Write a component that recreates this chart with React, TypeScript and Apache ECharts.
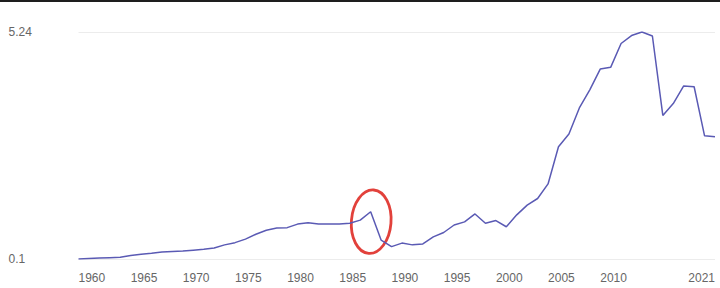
import React, { useEffect, useRef } from "react";
import * as echarts from "echarts";

const years: string[] = [];
for (let y = 1960; y <= 2021; y++) years.push(String(y));

const values: number[] = [
  0.10, 0.11, 0.12, 0.13, 0.14, 0.18, 0.21, 0.23, 0.26, 0.27,
  0.28, 0.30, 0.32, 0.35, 0.42, 0.47, 0.55, 0.66, 0.75, 0.80,
  0.81, 0.89, 0.92, 0.89, 0.89, 0.89, 0.91, 0.98, 1.17, 0.53,
  0.38, 0.46, 0.42, 0.44, 0.60, 0.70, 0.87, 0.94, 1.12, 0.91,
  0.97, 0.83, 1.10, 1.32, 1.47, 1.80, 2.64, 2.93, 3.52, 3.93,
  4.40, 4.44, 4.98, 5.16, 5.24, 5.15, 3.35, 3.62, 4.02, 4.00,
  2.89, 2.87,
];

const yMin = 0.1;
const yMax = 5.24;
const leftLabelYears = ["1960", "1965", "1970", "1975", "1980", "1985", "1990", "1995", "2000", "2005", "2010"];
const rightLabelYears = ["2021"];

export default function App() {
  const ref = useRef<HTMLDivElement>(null);
  useEffect(() => {
    if (!ref.current) return;
    const chart = echarts.init(ref.current, null, { renderer: "svg" });
    const labelStyle = {
      color: "#666",
      fontSize: 12,
      fontFamily: "'Liberation Sans', Arial, sans-serif",
    };
    chart.setOption({
      animation: false,
      backgroundColor: "#fff",
      grid: { left: 78.5, right: 5, top: 32, bottom: 29 },
      xAxis: [
        {
          type: "category",
          data: years,
          boundaryGap: false,
          axisLine: { show: false },
          axisTick: { show: false },
          splitLine: { show: false },
          axisLabel: {
            ...labelStyle,
            align: "left",
            margin: 13,
            interval: (i: number, v: string) => leftLabelYears.includes(v),
          },
        },
        {
          type: "category",
          data: years,
          boundaryGap: false,
          position: "bottom",
          axisLine: { show: false },
          axisTick: { show: false },
          splitLine: { show: false },
          axisLabel: {
            ...labelStyle,
            align: "right",
            margin: 13,
            interval: (i: number, v: string) => rightLabelYears.includes(v),
          },
        },
      ],
      yAxis: {
        type: "value",
        min: yMin,
        max: yMax,
        interval: yMax - yMin,
        axisLine: { show: false },
        axisTick: { show: false },
        splitLine: { lineStyle: { color: "#ececec", width: 1 } },
        axisLabel: {
          ...labelStyle,
          align: "left",
          margin: 70,
          formatter: (v: number) => String(Math.round(v * 100) / 100),
        },
      },
      series: [
        {
          type: "line",
          data: values,
          xAxisIndex: 0,
          symbol: "none",
          lineStyle: { color: "#5a5ab4", width: 1.5 },
        },
      ],
      graphic: [
        {
          type: "rect",
          left: 0,
          top: 0,
          shape: { width: 720, height: 2 },
          style: { fill: "#1e1e1e" },
          silent: true,
        },
        {
          type: "ellipse",
          x: 371.2,
          y: 221.7,
          rotation: -0.08,
          shape: { cx: 0, cy: 0, rx: 19.8, ry: 31.8 },
          style: { fill: "none", stroke: "#e2413b", lineWidth: 2.8 },
          silent: true,
        },
      ],
    });
    return () => chart.dispose();
  }, []);
  return (
    <div
      ref={ref}
      style={{ position: "fixed", left: 0, top: 0, width: 720, height: 288 }}
    />
  );
}
